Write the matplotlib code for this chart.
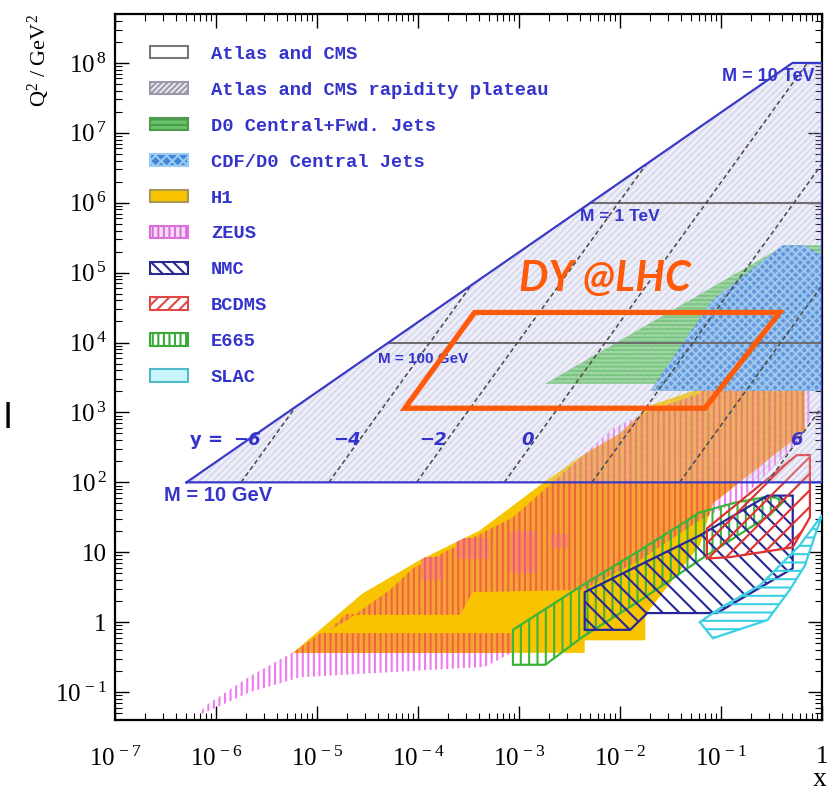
import numpy as np
import matplotlib
matplotlib.use('Agg')
import matplotlib.pyplot as plt
from matplotlib.patches import Polygon, Patch
from matplotlib.ticker import LogLocator, FixedLocator, FuncFormatter, NullFormatter

plt.rcParams['mathtext.fontset'] = 'custom'
plt.rcParams['mathtext.rm'] = 'Liberation Serif'
plt.rcParams['mathtext.it'] = 'Liberation Serif:italic'
plt.rcParams['mathtext.bf'] = 'Liberation Serif:bold'
plt.rcParams['hatch.linewidth'] = 1.5

# LHC kinematics
SQRT_S = 14000.0          # GeV
Q2_LOW, Q2_HIGH = 1e2, 1e8  # M = 10 GeV ... M = 10 TeV
MASS_LINES = [1e4, 1e6]     # M = 100 GeV, M = 1 TeV
RAPIDITIES = [-6, -4, -2, 0, 2, 4, 6]

X_DECADES = list(range(-7, 1))
Y_DECADES = list(range(-1, 9))

# measured regions as (log10 x, log10 Q2) outlines
H1 = [(-5.24, -0.44), (-2.35, -0.44), (-2.35, -0.26), (-1.75, -0.26), (-1.75, 0.10),
      (-1.21, 1.10), (-1.08, 1.70), (-0.32, 2.57), (-0.17, 2.74), (-0.17, 3.39),
      (-0.32, 3.41), (-1.21, 3.34), (-1.70, 3.10), (-2.00, 2.70), (-2.40, 2.36),
      (-2.79, 1.96), (-3.39, 1.31), (-3.98, 0.89), (-4.55, 0.41)]
ZEUS_MAIN = [(-4.87, -0.11), (-4.70, 0.03), (-4.28, 0.46), (-4.05, 0.77), (-3.51, 1.17),
             (-3.06, 1.50), (-2.72, 1.93), (-2.07, 2.77), (-1.70, 3.03), (-1.21, 3.27),
             (-0.52, 4.43), (-0.22, 4.43), (-0.12, 4.03), (-0.12, 2.89), (-0.27, 2.53),
             (-0.81, 1.74), (-1.06, 1.57), (-1.21, 1.46), (-1.80, 0.89), (-2.37, 0.46),
             (-3.46, 0.43), (-3.58, 0.11), (-4.72, 0.11)]
ZEUS_LOW = [(-6.18, -1.34), (-5.66, -1.00), (-5.17, -0.79), (-3.34, -0.64), (-3.06, -0.43),
            (-3.06, -0.16), (-4.97, -0.16), (-5.20, -0.40), (-5.66, -0.77), (-6.11, -1.20)]
# bins where the ZEUS coverage is doubled up
ZEUS_DENSE = [
    [(-3.97, 0.60), (-3.75, 0.60), (-3.75, 0.93), (-3.97, 0.93)],
    [(-3.62, 0.90), (-3.30, 0.90), (-3.30, 1.20), (-3.62, 1.20)],
    [(-3.10, 0.70), (-2.82, 0.70), (-2.82, 1.30), (-3.10, 1.30)],
    [(-2.68, 1.06), (-2.52, 1.06), (-2.52, 1.26), (-2.68, 1.26)],
]
E665 = [(-3.06, -0.61), (-3.06, -0.11), (-2.37, 0.53), (-1.80, 1.03), (-1.21, 1.57),
        (-0.86, 1.71), (-0.52, 1.80), (-0.37, 1.74), (-0.52, 1.53), (-1.21, 0.89),
        (-1.80, 0.31), (-2.37, -0.21), (-2.74, -0.61)]
NMC = [(-2.35, 0.43), (-2.35, -0.11), (-1.90, -0.11), (-1.73, 0.13), (-1.04, 0.13),
       (-0.29, 0.77), (-0.29, 1.81), (-0.54, 1.81), (-1.21, 1.24)]
BCDMS = [(-1.14, 1.34), (-1.14, 0.91), (-0.91, 0.93), (-0.29, 1.07), (-0.12, 1.50),
         (-0.12, 2.39), (-0.25, 2.39)]
SLAC = [(-1.21, 0.00), (-1.08, -0.23), (-0.54, 0.03), (-0.32, 0.46), (-0.17, 0.81),
        (-0.07, 1.24), (0.00, 1.53), (-0.22, 1.10), (-0.61, 0.53), (-1.01, 0.20)]
D0_FWD = [(-2.74, 3.41), (-0.37, 5.39), (0.00, 5.39), (0.00, 3.41)]
CDF_D0 = [(-1.70, 3.31), (-1.09, 4.60), (-0.39, 5.39), (-0.17, 5.39), (0.00, 5.24), (0.00, 3.31)]
DY_LHC = [(-3.44, 4.43), (-0.42, 4.43), (-1.16, 3.06), (-4.13, 3.06)]

LEGEND_LABELS = ['Atlas and CMS', 'Atlas and CMS rapidity plateau', 'D0 Central+Fwd. Jets',
                 'CDF/D0 Central Jets', 'H1', 'ZEUS', 'NMC', 'BCDMS', 'E665', 'SLAC']

BLUE_TXT = '#3434CC'
DY_ORANGE = '#FF5A0A'


def add_poly(ax, pts, **kw):
    p = Polygon(10.0 ** np.asarray(pts, dtype=float), closed=True, **kw)
    ax.add_patch(p)
    return p


def hatched(ax, pts, color, hatch, z, face='none'):
    add_poly(ax, pts, facecolor=face, edgecolor=color, hatch=hatch, lw=0, zorder=z)
    add_poly(ax, pts, fill=False, edgecolor=color, lw=1.6, zorder=z + 0.1)


def tick_fmt(v, pos):
    e = int(round(np.log10(v)))
    if e == 0:
        return '1'
    if e == 1:
        return '10'
    return r'$10^{\,%d}$' % e


fig = plt.figure(figsize=(8.3, 7.9), dpi=100)
ax = fig.add_axes([0.1386, 0.0886, 0.8518, 0.8937])
ax.set_xscale('log')
ax.set_yscale('log')
ax.set_xlim(1e-7, 1.0)
ax.set_ylim(10 ** -1.4, 10 ** 8.7)

# LHC kinematic reach (Q2 = x s) between M = 10 GeV and M = 10 TeV
s = SQRT_S ** 2
lhc = np.array([(Q2_LOW / s, Q2_LOW), (Q2_HIGH / s, Q2_HIGH), (1.0, Q2_HIGH), (1.0, Q2_LOW)])
ax.add_patch(Polygon(lhc, closed=True, facecolor='#EEEEF8', lw=0, zorder=1))

# HERA: ZEUS stripes, H1 fill, ZEUS stripes again where they sit on H1
for pts in (ZEUS_MAIN, ZEUS_LOW):
    add_poly(ax, pts, facecolor='none', edgecolor='#F07AF0', hatch='|||', lw=0, zorder=2)
h1 = add_poly(ax, H1, facecolor='#F8C400', lw=0, zorder=3)
for pts in (ZEUS_MAIN, ZEUS_LOW):
    p = add_poly(ax, pts, facecolor='#F6A336', edgecolor='#F0663A', hatch='|||', lw=0, zorder=4)
    p.set_clip_path(h1)
for pts in ZEUS_DENSE:
    p = add_poly(ax, pts, facecolor='#F59050', edgecolor='#F2587A', hatch='|||', lw=0, zorder=4.5)
    p.set_clip_path(h1)

# Tevatron jets
add_poly(ax, D0_FWD, facecolor='#5CC15C', edgecolor='#8ED88E', hatch='----', lw=0, zorder=5)
add_poly(ax, CDF_D0, facecolor='#3A84D6', edgecolor='#8CC2F0', hatch='xxxx', lw=0, zorder=6)

# fixed target
hatched(ax, E665, '#3BB43B', '||', 7)
hatched(ax, NMC, '#26269A', '\\\\', 7.2)
hatched(ax, BCDMS, '#E03030', '//', 7.4)
hatched(ax, SLAC, '#3AD0E2', '--', 7.6)

# rapidity plateau hatching laid over everything inside the LHC reach
ax.add_patch(Polygon(lhc, closed=True, facecolor=(1, 1, 1, 0.15),
                     edgecolor=(0.68, 0.68, 0.86, 0.32), hatch='/////', lw=0, zorder=8))

# fixed-mass lines
for q2 in MASS_LINES:
    ax.plot([q2 / s, 1.0], [q2, q2], color='#6E6E6E', lw=1.5, zorder=9)

# fixed-rapidity lines: x = M/sqrt(s) * exp(y)
for y in RAPIDITIES:
    q_top = min(s * np.exp(2 * y), Q2_HIGH, s * np.exp(-2 * y))
    qs = np.array([Q2_LOW, q_top])
    xs = np.sqrt(qs) / SQRT_S * np.exp(y)
    ax.plot(xs, qs, color='#4A4A4A', lw=1.1, ls=(0, (3, 2)), zorder=9)

ax.plot(np.append(lhc[:, 0], lhc[0, 0]), np.append(lhc[:, 1], lhc[0, 1]),
        color='#3A3AC8', lw=1.6, zorder=10)

lab = dict(color=BLUE_TXT, fontweight='bold', family='Liberation Sans', zorder=11,
           va='center', ha='left')
ax.text(10 ** -6.52, 10 ** 1.81, 'M = 10 GeV', fontsize=14.5, **lab)
ax.text(10 ** -4.40, 10 ** 3.77, 'M = 100 GeV', fontsize=11, **lab)
ax.text(10 ** -2.40, 10 ** 5.80, 'M = 1 TeV', fontsize=12.5, **lab)
ax.text(10 ** -0.99, 10 ** 7.81, 'M = 10 TeV', fontsize=13, **lab)
ax.text(10 ** -6.09, 10 ** 2.60, 'y =', fontsize=13, color=BLUE_TXT, fontweight='bold',
        ha='center', va='center', zorder=11)
for txt, lx in [('\u22126', -5.69), ('\u22124', -4.70), ('\u22122', -3.85), ('0', -2.92), ('6', -0.25)]:
    ax.text(10 ** lx, 10 ** 2.60, txt, fontsize=13, color=BLUE_TXT, fontweight='bold',
            fontstyle='italic', ha='center', va='center', zorder=11)

# Drell-Yan at the LHC
add_poly(ax, DY_LHC, fill=False, edgecolor=DY_ORANGE, lw=3.8, joinstyle='miter', zorder=12)
ax.text(10 ** -2.15, 10 ** 4.91, 'DY @LHC', fontsize=30, color=DY_ORANGE, fontweight='bold',
        fontstyle='italic', family=['Lato', 'DejaVu Sans'], ha='center', va='center', zorder=12)

# axes
for sp in ax.spines.values():
    sp.set_linewidth(1.6)
ax.xaxis.set_major_locator(FixedLocator([10.0 ** e for e in X_DECADES]))
ax.yaxis.set_major_locator(FixedLocator([10.0 ** e for e in Y_DECADES]))
ax.xaxis.set_minor_locator(LogLocator(base=10, subs=np.arange(2, 10), numticks=20))
ax.yaxis.set_minor_locator(LogLocator(base=10, subs=np.arange(2, 10), numticks=20))
ax.xaxis.set_major_formatter(FuncFormatter(tick_fmt))
ax.yaxis.set_major_formatter(FuncFormatter(tick_fmt))
ax.xaxis.set_minor_formatter(NullFormatter())
ax.yaxis.set_minor_formatter(NullFormatter())
ax.tick_params(which='both', direction='in', top=True, right=True, labelsize=18)
ax.tick_params(which='major', length=10, width=1.0)
ax.tick_params(which='minor', length=5, width=0.8)
ax.tick_params(axis='x', pad=19)
ax.tick_params(axis='y', pad=6)
for t in ax.get_xticklabels() + ax.get_yticklabels():
    t.set_family('Liberation Serif')

ax.set_ylabel(r'Q$^2$ / GeV$^2$', loc='top', fontsize=16, family='Liberation Serif', labelpad=2)
ax.set_xlabel('x', loc='right', fontsize=20, family='Liberation Serif')
ax.xaxis.set_label_coords(1.006, -0.066)

# legend
handles = [
    Patch(facecolor='white', edgecolor='#777777', lw=1.5),
    Patch(facecolor='#EEEEF4', edgecolor='#9A9AAA', hatch='//////', lw=1.5),
    Patch(facecolor='#66C466', edgecolor='#4E9A4E', hatch='---', lw=1.5),
    Patch(facecolor='#3F86D6', edgecolor='#9CCBF2', hatch='xxx', lw=1.5),
    Patch(facecolor='#F8C400', edgecolor='#A89850', lw=1.5),
    Patch(facecolor='#F8DCF8', edgecolor='#D870D8', hatch='|||', lw=1.5),
    Patch(facecolor='white', edgecolor='#2A2A90', hatch='\\\\\\', lw=1.5),
    Patch(facecolor='white', edgecolor='#E04848', hatch='///', lw=1.5),
    Patch(facecolor='white', edgecolor='#3AAA3A', hatch='|||', lw=1.5),
    Patch(facecolor='#C8F4FA', edgecolor='#50B8C8', lw=1.5),
]
leg = ax.legend(handles, LEGEND_LABELS, loc='upper left', bbox_to_anchor=(0.0495, 0.955),
                frameon=False, borderpad=0, borderaxespad=0, handlelength=2.0,
                handleheight=0.65, handletextpad=1.25, labelspacing=1.01,
                prop={'family': 'Liberation Mono', 'weight': 'bold', 'size': 13.5},
                labelcolor=BLUE_TXT)
leg.set_zorder(20)

fig.text(0.0096, 0.471, 'I', fontsize=25, ha='center', va='center', family='DejaVu Sans')

fig.savefig('out.png', dpi=100, facecolor='white')
